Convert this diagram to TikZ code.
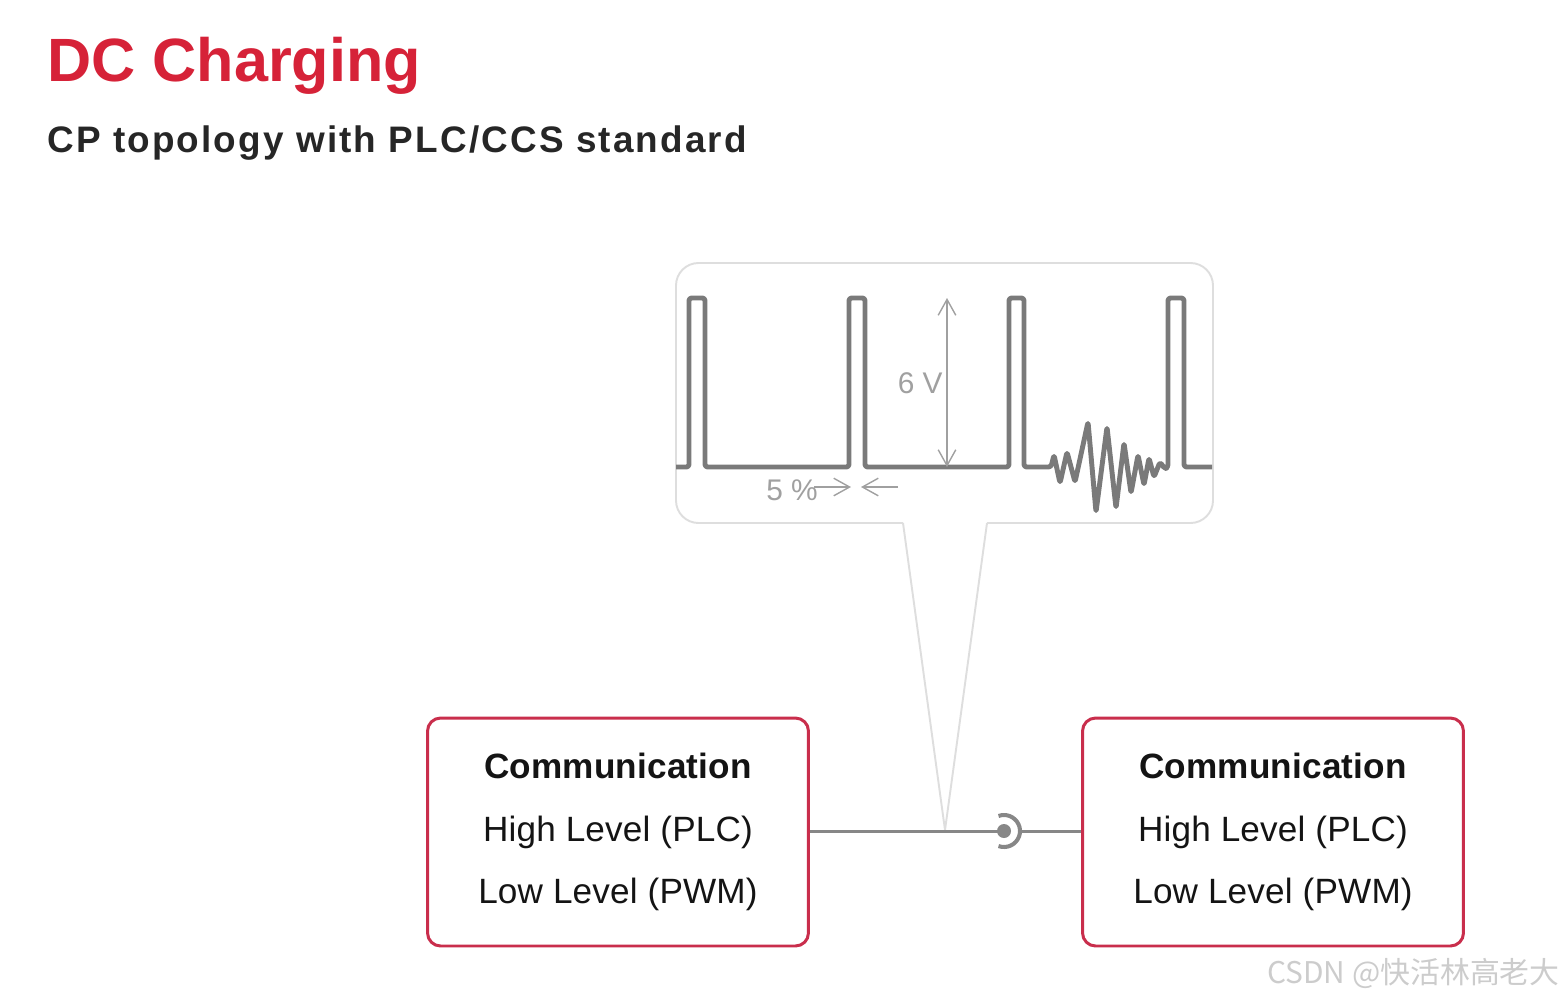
\documentclass[tikz,border=0pt]{standalone}
\usepackage{fontspec}
\setmainfont{Liberation Sans}
\newfontfamily\boxfont{Liberation Sans}[LetterSpace=0.5]
\newfontfamily\subfont{Liberation Sans}[LetterSpace=5.8]
\newfontfamily\cjkfont{Noto Sans CJK SC}
\usetikzlibrary{arrows.meta,positioning}
\definecolor{titlered}{RGB}{214,34,56}
\definecolor{boxred}{RGB}{201,46,76}
\definecolor{wavegray}{RGB}{122,122,122}
\definecolor{dimgray}{RGB}{160,160,160}
\definecolor{calloutgray}{RGB}{222,222,222}
\definecolor{wiregray}{RGB}{135,135,135}
\tikzset{
  commbox/.style={draw=boxred, line width=1.7pt, rounded corners=0.26cm,
    minimum width=7.62cm, minimum height=4.56cm, align=center,
    font=\boxfont\fontsize{20}{35.5}\selectfont, text=black!92},
  wire/.style={draw=wiregray, line width=1.7pt},
  dimline/.style={draw=dimgray, line width=0.8pt},
  dimtext/.style={text=dimgray, inner sep=0pt, font=\fontsize{17}{20}\selectfont},
  >={Straight Barb[length=9pt,width=10pt]}
}
\begin{document}
\begin{tikzpicture}[x=0.02cm, y=-0.02cm, line join=round]
  \useasboundingbox (0,0) rectangle (1564,1002);
  % heading
  \node[anchor=base west, inner sep=0pt, text=titlered, font=\bfseries\fontsize{34.8}{40}\selectfont] (title) at (47,81) {DC Charging};
  \node[anchor=base west, inner sep=0pt, text=black!85, font=\subfont\bfseries\fontsize{21}{24}\selectfont] (subtitle) at (47,152) {CP topology with PLC/CCS standard};
  % callout
  \coordinate (tip) at (945,830);
  \draw[calloutgray, line width=1.1pt, rounded corners=0.45cm] (903,523) -- (676,523) -- (676,263) -- (1213,263) -- (1213,523) -- (987,523);
  \draw[calloutgray, line width=1.1pt] (903,523) -- (tip) -- (987,523);
  % CP signal with PLC burst
  \draw[wavegray, line width=2.8pt, rounded corners=1.5pt] (676,467) -- (689,467) -- (689,298) -- (705,298) -- (705,467)
    -- (849,467) -- (849,298) -- (865,298) -- (865,467)
    -- (1009,467) -- (1009,298) -- (1024,298) -- (1024,467) -- (1051,467)
    -- (1054,455) -- (1060,483) -- (1067,452) -- (1075,482) -- (1088,422) -- (1096,512)
    -- (1107,427) -- (1116,508) -- (1124,443) -- (1131,493) -- (1138,455) -- (1144,485)
    -- (1149,458) -- (1154,477) -- (1160,462) -- (1165,469) -- (1168,467)
    -- (1168,298) -- (1184,298) -- (1184,467) -- (1212,467);
  % 6 V
  \coordinate (vtop) at (947,298);
  \coordinate (vbot) at (947,467);
  \draw[dimline, <->] (vtop) -- (vbot);
  \node[dimtext, anchor=east] (volt) at (943,383) {6 V};
  % 5 %
  \node[dimtext] (duty) at (792,490) {5 \%};
  \coordinate (dla) at (814,487);
  \coordinate (dlb) at (851,487);
  \coordinate (dra) at (898,487);
  \coordinate (drb) at (861,487);
  \draw[dimline, ->] (dla) -- (dlb);
  \draw[dimline, ->] (dra) -- (drb);
  % boxes
  \node[commbox] (evse) at (618,832) {{\bfseries Communication}\\High Level (PLC)\\Low Level (PWM)};
  \node[commbox] (ev) at (1273,832) {{\bfseries Communication}\\High Level (PLC)\\Low Level (PWM)};
  % connector
  \coordinate (plug) at (1004,831);
  \coordinate (socket) at (1020,831);
  \draw[wire] (evse.east |- plug) -- (plug);
  \fill[wiregray] (plug) circle (7);
  \draw[wiregray, line width=2.3pt] ([shift={(110:16)}]plug) arc (110:-110:16);
  \draw[wire] (socket) -- (ev.west |- socket);
  % watermark
  \node[anchor=east, inner sep=0pt, text=black!20, font=\cjkfont\fontsize{17}{20}\selectfont] (mark) at (1560,973) {CSDN @快活林高老大};
\end{tikzpicture}
\end{document}
